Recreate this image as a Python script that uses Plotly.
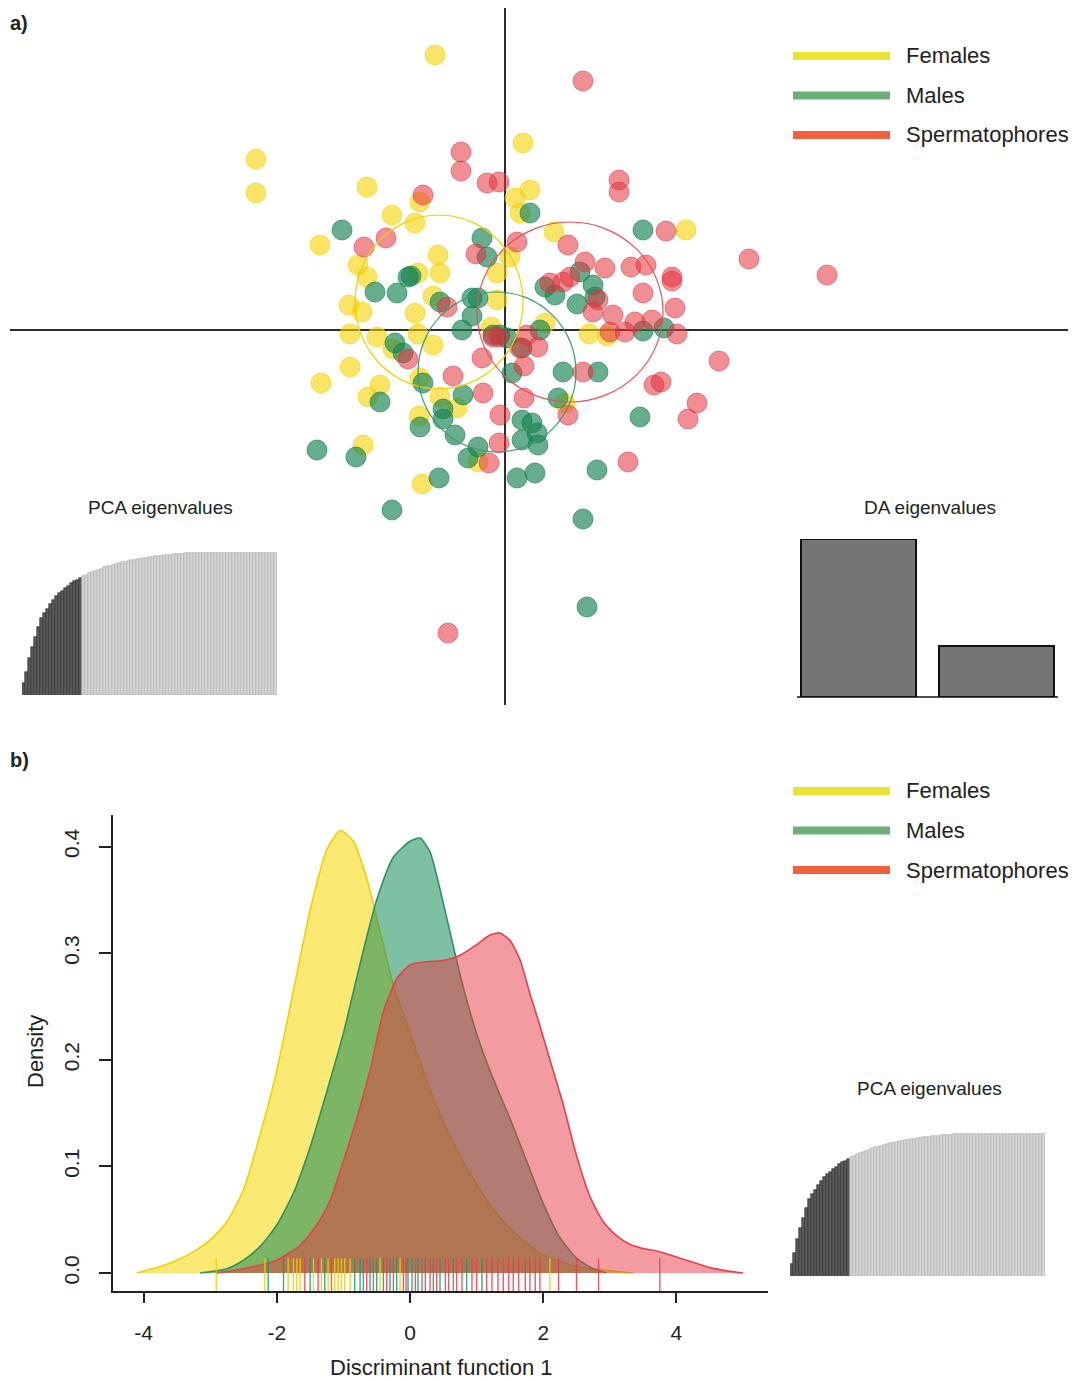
import plotly.graph_objects as go

# the page body has an 8px margin, so the figure is 8px smaller and all positions are offset
OFF = 8
W, H = 1079 - OFF, 1381 - OFF
def px(x): return (x - OFF) / W
def py(y): return 1 - (y - OFF) / H

# ---------------- Panel a: DA scatter (arbitrary score units) ----------------
fem_x = [-7.0,-24.9,-24.9,-13.8,1.8,2.5,1.0,1.5,-8.5,-11.3,-9.0,-18.5,4.9,18.1,0.5,-14.7,-13.8,-6.7,-6.5,-8.7,
         -0.8,-7.2,-15.6,-14.3,-9.0,-0.8,-1.4,-15.5,-12.8,-8.7,4.0,8.4,10.2,-7.2,-11.2,-15.5,-18.4,-12.5,-13.7,-8.5,
         -6.5,-4.8,-8.6,-14.2,-2.7,-8.3,6.0]
fem_y = [27.5,17.1,13.7,14.3,18.7,14.0,13.2,11.7,12.8,11.5,10.7,8.5,9.8,10.0,7.3,6.5,5.3,7.5,5.7,5.7,
         5.7,3.4,2.5,1.8,1.7,3.0,0.3,-0.4,-0.7,-0.4,0.7,-0.4,-0.6,-1.5,-1.9,-3.7,-5.3,-5.5,-6.7,-4.8,
         -6.7,-7.8,-8.6,-11.5,-13.2,-15.4,-7.3]
mal_x = [2.5,-16.3,13.8,-2.3,-1.8,-9.4,-13.0,-10.8,-6.5,-3.3,-2.7,-3.3,-4.3,4.0,5.0,7.2,8.8,7.5,-11.0,-10.2,
         -1.2,0.2,3.5,15.9,13.8,1.7,0.7,5.8,9.3,-8.2,-12.5,-4.2,-6.2,-6.2,-5.0,1.7,2.7,3.2,1.7,3.3,
         5.3,13.5,9.2,-18.8,-14.9,-3.7,-2.7,-6.6,1.2,3.0,-8.5,-11.3,7.8,8.2,9.0,-9.7,-0.5]
mal_y = [11.7,10.0,10.0,9.2,7.3,5.4,3.8,3.7,2.8,3.2,3.2,1.4,0.0,4.3,3.5,2.6,4.5,5.8,-1.3,-2.3,
         -0.5,-0.8,0.0,0.2,-0.1,-1.8,-4.3,-4.2,-4.2,-5.3,-7.2,-6.5,-7.9,-8.9,-10.5,-9.0,-9.3,-10.3,-11.0,-11.5,
         -6.8,-8.7,-14.0,-12.0,-12.7,-12.8,-11.7,-14.8,-14.8,-14.3,-9.7,-18.0,-18.9,-27.7,3.3,5.3,-0.5]
spe_x = [7.8,-4.4,-4.4,-1.8,-0.6,-8.2,11.4,11.4,-11.9,-14.1,-2.9,1.2,6.3,16.1,24.4,32.2,8.0,10.0,12.6,14.1,
         16.7,16.7,13.8,17.0,9.3,8.8,10.8,13.0,14.7,17.2,12.0,10.5,4.5,5.8,6.5,-5.8,-9.7,-2.3,-5.2,-0.6,
         2.2,3.3,1.5,1.9,7.8,-2.2,1.9,-0.5,6.3,14.9,15.6,19.2,18.3,21.4,-0.6,-1.6,12.3,-5.7,-1.2]
spe_y = [24.9,17.8,15.9,14.7,14.8,13.5,15.0,13.8,9.2,8.3,7.6,8.8,8.5,9.9,7.1,5.5,6.8,6.2,6.3,6.5,
         5.3,4.9,3.7,2.2,3.0,1.8,1.5,0.8,1.0,-0.4,-0.2,-0.2,4.7,4.8,5.3,2.3,-2.9,-2.8,-4.6,-0.7,
         -0.5,-1.7,-1.8,-3.6,-4.2,-6.3,-6.8,-8.5,-8.5,-5.5,-5.2,-7.3,-8.9,-3.1,-11.3,-13.3,-13.2,-30.3,-0.7]

# group ellipses: centre x, centre y, radius x, radius y
ell_cx = [-6.6, -0.8, 6.5]
ell_cy = [2.8, -4.2, 1.8]
ell_rx = [8.4, 7.9, 9.3]
ell_ry = [8.7, 8.0, 9.0]

groups = ["Females", "Males", "Spermatophores"]

# ---------------- Panel b: density of discriminant function 1 ----------------
fem_dx = [-4.1,-3.75,-3.5,-3.25,-3.0,-2.75,-2.5,-2.25,-2.0,-1.75,-1.5,-1.25,-1.05,-0.85,-0.65,-0.45,-0.25,0.0,
          0.25,0.5,0.75,1.0,1.25,1.5,1.75,2.0,2.5,3.0,3.35]
fem_dy = [0.0,0.006,0.012,0.02,0.031,0.048,0.078,0.13,0.19,0.265,0.34,0.397,0.415,0.405,0.37,0.32,0.27,0.225,
          0.18,0.142,0.11,0.083,0.06,0.042,0.028,0.017,0.006,0.002,0.0]
mal_dx = [-3.15,-2.75,-2.5,-2.25,-2.0,-1.75,-1.5,-1.25,-1.0,-0.75,-0.5,-0.25,0.0,0.15,0.3,0.45,0.6,0.75,0.9,
          1.05,1.25,1.5,1.75,2.0,2.25,2.5,2.75,2.95]
mal_dy = [0.0,0.004,0.012,0.025,0.045,0.075,0.118,0.17,0.225,0.29,0.35,0.39,0.405,0.408,0.395,0.36,0.32,0.28,
          0.245,0.215,0.182,0.145,0.105,0.065,0.033,0.014,0.004,0.0]
spe_dx = [-2.9,-2.5,-2.0,-1.65,-1.4,-1.2,-1.0,-0.8,-0.6,-0.4,-0.2,0.0,0.25,0.5,0.75,1.0,1.2,1.35,1.5,1.65,1.8,
          1.95,2.1,2.3,2.5,2.7,2.9,3.1,3.3,3.5,3.75,4.0,4.25,4.5,4.75,5.0]
spe_dy = [0.0,0.004,0.012,0.026,0.045,0.068,0.105,0.145,0.19,0.245,0.276,0.289,0.292,0.293,0.298,0.308,0.317,0.319,
          0.312,0.294,0.262,0.232,0.2,0.158,0.11,0.072,0.048,0.035,0.027,0.023,0.02,0.015,0.01,0.005,0.002,0.0]

fem_rug = [-2.91,-2.18,-1.83,-1.75,-1.7,-1.65,-1.45,-1.33,-1.23,-1.13,-1.08,-1.03,-0.98,-0.9,-0.45,-0.15,2.1]
mal_rug = [-2.13,-1.9,-1.5,-1.28,-0.83,-0.75,-0.7,-0.6,-0.5,-0.4,-0.3,-0.2,-0.03,0.03,0.12,0.23,0.35,0.45,
           0.65,0.85,1.08]
spe_rug = [-1.58,-1.38,-1.18,-0.65,-0.55,-0.35,-0.25,-0.1,-0.06,0.08,0.18,0.3,0.4,0.53,0.58,0.7,0.78,0.93,1.0,
           1.15,1.23,1.32,1.4,1.48,1.55,1.63,1.73,1.8,1.88,1.95,2.23,2.5,2.83,3.75]

dens_xticks = [-4, -2, 0, 2, 4]
dens_yticks = [0.0, 0.1, 0.2, 0.3, 0.4]

# ---------------- eigenvalue insets ----------------
pca_cumvar = [8.6,16.3,25.7,33.9,40.9,47.9,53.7,57.0,60.0,63.5,66.5,69.0,71.5,73.0,75.0,76.5,78.0,79.5,80.7,81.8,
              83.0,84.0,85.0,86.0,86.8,87.6,88.4,89.2,89.9,90.5,
              91.1,91.7,92.2,92.7,93.2,93.7,94.1,94.5,94.9,95.3,
              95.7,96.0,96.3,96.6,96.9,97.2,97.5,97.7,97.9,98.1,
              98.3,98.5,98.7,98.9,99.0,99.2,99.3,99.4,99.5,99.6,
              99.7,99.8,99.8,99.9,99.9,99.9,
              100,100,100,100,100,100,100,100,100,100,100,100,100,100,100,100,100,100,100]
n_pca_retained = 20
da_eig = [1.0, 0.32]

# colours
pt_col = ["rgba(245,210,0,0.6)", "rgba(20,130,80,0.65)", "rgba(228,50,60,0.55)"]
ell_col = ["#F0D000", "#3C9C6C", "#E8505A"]
fill_col = ["rgba(245,215,0,0.55)", "rgba(20,140,90,0.55)", "rgba(230,55,65,0.5)"]
edge_col = ["#F2D000", "#2E9160", "#E8404C"]
rug_col = ["rgba(240,205,0,0.85)", "rgba(30,150,110,0.85)", "rgba(235,60,75,0.85)"]
leg_col = ["#E9E42F", "#6AAF75", "#F0613F"]
FONT = "Liberation Sans, Arial, sans-serif"
TXT = "#222222"

fig = go.Figure()

# scatter points
for xs, ys, c, n in zip([fem_x, mal_x, spe_x], [fem_y, mal_y, spe_y], pt_col, groups):
    fig.add_trace(go.Scatter(x=xs, y=ys, mode="markers", name=n, showlegend=False,
                             marker=dict(size=20, color=c, line=dict(width=1, color=c)),
                             xaxis="x", yaxis="y"))

# density
for xs, ys, fc, ec, n in zip([fem_dx, mal_dx, spe_dx], [fem_dy, mal_dy, spe_dy], fill_col, edge_col, groups):
    fig.add_trace(go.Scatter(x=xs, y=ys, mode="lines", fill="tozeroy", fillcolor=fc, showlegend=False,
                             line=dict(color=ec, width=1.6, shape="spline", smoothing=0.6), name=n,
                             xaxis="x2", yaxis="y2"))
# rug
for r, c in zip([fem_rug, mal_rug, spe_rug], rug_col):
    fig.add_trace(go.Scatter(x=r, y=[-0.0019] * len(r), mode="markers", showlegend=False,
                             marker=dict(symbol="line-ns", size=24, line=dict(width=1.4, color=c)),
                             xaxis="x2", yaxis="y2", hoverinfo="skip"))

# PCA eigenvalue insets
pca_idx = list(range(len(pca_cumvar)))
pca_cols = ["#5a5a5a" if i < n_pca_retained else "#d4d4d4" for i in pca_idx]
pca_lines = ["#2a2a2a" if i < n_pca_retained else "#b0b0b0" for i in pca_idx]
for xa, ya in [("x3", "y3"), ("x5", "y5")]:
    fig.add_trace(go.Bar(x=pca_idx, y=pca_cumvar, width=1, showlegend=False,
                         marker=dict(color=pca_cols, line=dict(color=pca_lines, width=0.6)),
                         xaxis=xa, yaxis=ya, hoverinfo="skip"))

# DA eigenvalues inset
fig.add_trace(go.Bar(x=[0.7, 1.9], y=da_eig, width=1.0, showlegend=False,
                     marker=dict(color="#737576", line=dict(color="#111111", width=2)),
                     xaxis="x4", yaxis="y4", hoverinfo="skip"))

shapes = []
for cx, cy, rx, ry, c in zip(ell_cx, ell_cy, ell_rx, ell_ry, ell_col):
    shapes.append(dict(type="circle", xref="x", yref="y", x0=cx - rx, x1=cx + rx, y0=cy - ry, y1=cy + ry,
                       line=dict(color=c, width=1.2), layer="above"))

annotations = []
# legends
for ly in (56, 791):
    for k, (n, c) in enumerate(zip(groups, leg_col)):
        yy = ly + k * 39.5
        shapes.append(dict(type="line", xref="paper", yref="paper", x0=px(793), x1=px(890),
                           y0=py(yy), y1=py(yy), line=dict(color=c, width=8)))
        annotations.append(dict(text=n, x=px(904), y=py(yy), xref="paper", yref="paper",
                                xanchor="left", yanchor="middle", showarrow=False,
                                font=dict(size=22, color=TXT, family=FONT)))

# DA baseline
shapes.append(dict(type="line", xref="paper", yref="paper", x0=px(797), x1=px(1058), y0=py(697), y1=py(697),
                   line=dict(color="#111111", width=1.5)))

def label(t, x, y, size, bold=False, angle=0, anchor="center"):
    annotations.append(dict(text=("<b>%s</b>" % t) if bold else t, x=px(x), y=py(y), xref="paper",
                            yref="paper", xanchor=anchor, yanchor="middle", showarrow=False, textangle=angle,
                            font=dict(size=size, color=TXT, family=FONT)))

label("a)", 8, 23, 20, bold=True, anchor="left")
label("b)", 8, 760, 20, bold=True, anchor="left")
label("PCA eigenvalues", 160, 507, 19)
label("DA eigenvalues", 930, 507, 19)
label("PCA eigenvalues", 929, 1088, 19)
label("Discriminant function 1", 441, 1367, 22)
label("Density", 35, 1052, 22, angle=-90)

hidden = dict(visible=False, showgrid=False, zeroline=False, fixedrange=True)

fig.update_layout(
    width=W, height=H, margin=dict(l=0, r=0, t=0, b=0), autosize=False,
    paper_bgcolor="white", plot_bgcolor="rgba(0,0,0,0)", showlegend=False,
    bargap=0,
    font=dict(family=FONT, color=TXT),
    xaxis=dict(domain=[px(10), px(1068)], range=[-49.5, 56.3], showgrid=False, showticklabels=False,
               ticks="", zeroline=True, zerolinecolor="#2b2b2b", zerolinewidth=1.8, showline=False),
    yaxis=dict(domain=[py(705), py(8)], range=[-37.5, 32.2], showgrid=False, showticklabels=False,
               ticks="", zeroline=True, zerolinecolor="#2b2b2b", zerolinewidth=1.8, showline=False),
    xaxis2=dict(domain=[px(113), px(768)], range=[-4.46, 5.375], anchor="y2", showgrid=False, zeroline=False,
                showline=True, linecolor="#222", linewidth=1.5, ticks="outside", ticklen=10, tickwidth=1.5,
                tickcolor="#222", tickvals=dens_xticks, ticktext=[str(v) for v in dens_xticks],
                ticklabelstandoff=12,
                tickfont=dict(size=21, color=TXT, family=FONT)),
    yaxis2=dict(domain=[py(1291), py(815)], range=[-0.0169, 0.4296], anchor="x2", showgrid=False,
                zeroline=False, showline=True, linecolor="#222", linewidth=1.5, ticks="outside", ticklen=12,
                tickwidth=1.5, tickcolor="#222", tickvals=dens_yticks,
                ticktext=["%.1f" % v for v in dens_yticks], tickangle=-90, ticklabelstandoff=12,
                tickfont=dict(size=21, color=TXT, family=FONT)),
    xaxis3=dict(hidden, domain=[px(22), px(277)], range=[-0.5, len(pca_cumvar) - 0.5], anchor="y3"),
    yaxis3=dict(hidden, domain=[py(695), py(552)], range=[0, 100], anchor="x3"),
    xaxis5=dict(hidden, domain=[px(790), px(1045)], range=[-0.5, len(pca_cumvar) - 0.5], anchor="y5"),
    yaxis5=dict(hidden, domain=[py(1276), py(1133)], range=[0, 100], anchor="x5"),
    xaxis4=dict(hidden, domain=[px(797), px(1058)], range=[0.165, 2.435], anchor="y4"),
    yaxis4=dict(hidden, domain=[py(697), py(539)], range=[0, 1.0], anchor="x4"),
    shapes=shapes, annotations=annotations,
)

fig.write_html("out.html")
